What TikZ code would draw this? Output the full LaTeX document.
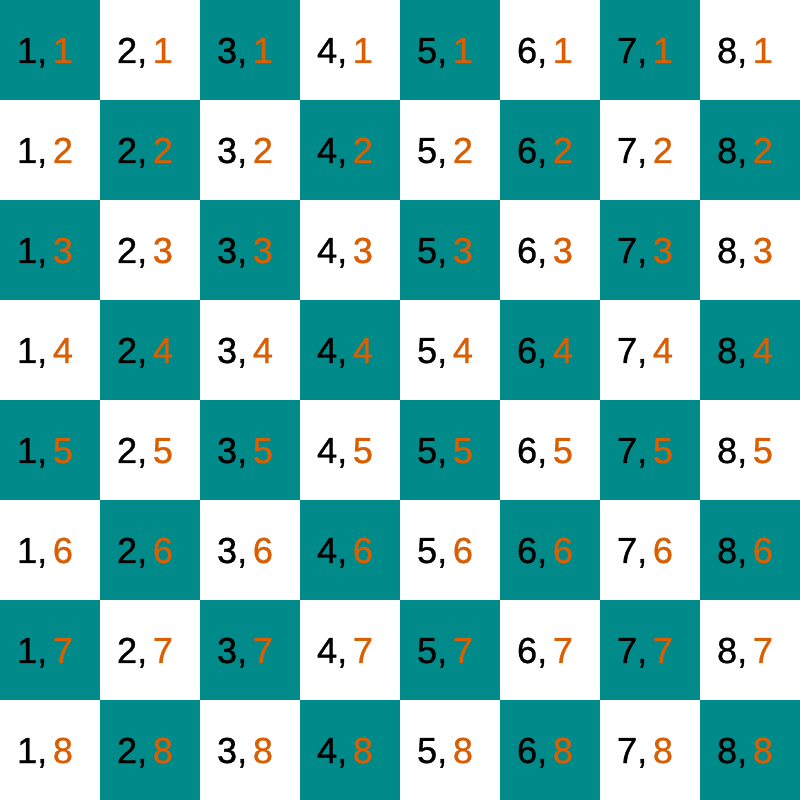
\documentclass[tikz,border=0pt]{standalone}
\usepackage{fontspec}
\setmainfont{Liberation Sans}
\newfontfamily\cellfont[FakeBold=0.8]{Liberation Sans}
\usetikzlibrary{positioning}
\definecolor{boardteal}{RGB}{0,138,138}
\definecolor{numorange}{RGB}{217,95,2}

\begin{document}
\begin{tikzpicture}[x=1cm,y=1cm,
every node/.style={inner sep=0pt,anchor=base,font=\cellfont\fontsize{10.3}{12}\selectfont}]
\useasboundingbox (0,0) rectangle (8,8);
\foreach \i in {1,...,8}
\foreach \j in {1,...,8}{
  \ifodd\numexpr\i+\j\relax \def\shade{white}\else\def\shade{boardteal}\fi
  \fill[\shade] (\i-1,8-\j) rectangle (\i,9-\j);
  \node (c\i\j) at (\i-0.55,8.37-\j) {\i,\kern1.6pt\textcolor{numorange}{\j}};
}
\end{tikzpicture}
\end{document}
